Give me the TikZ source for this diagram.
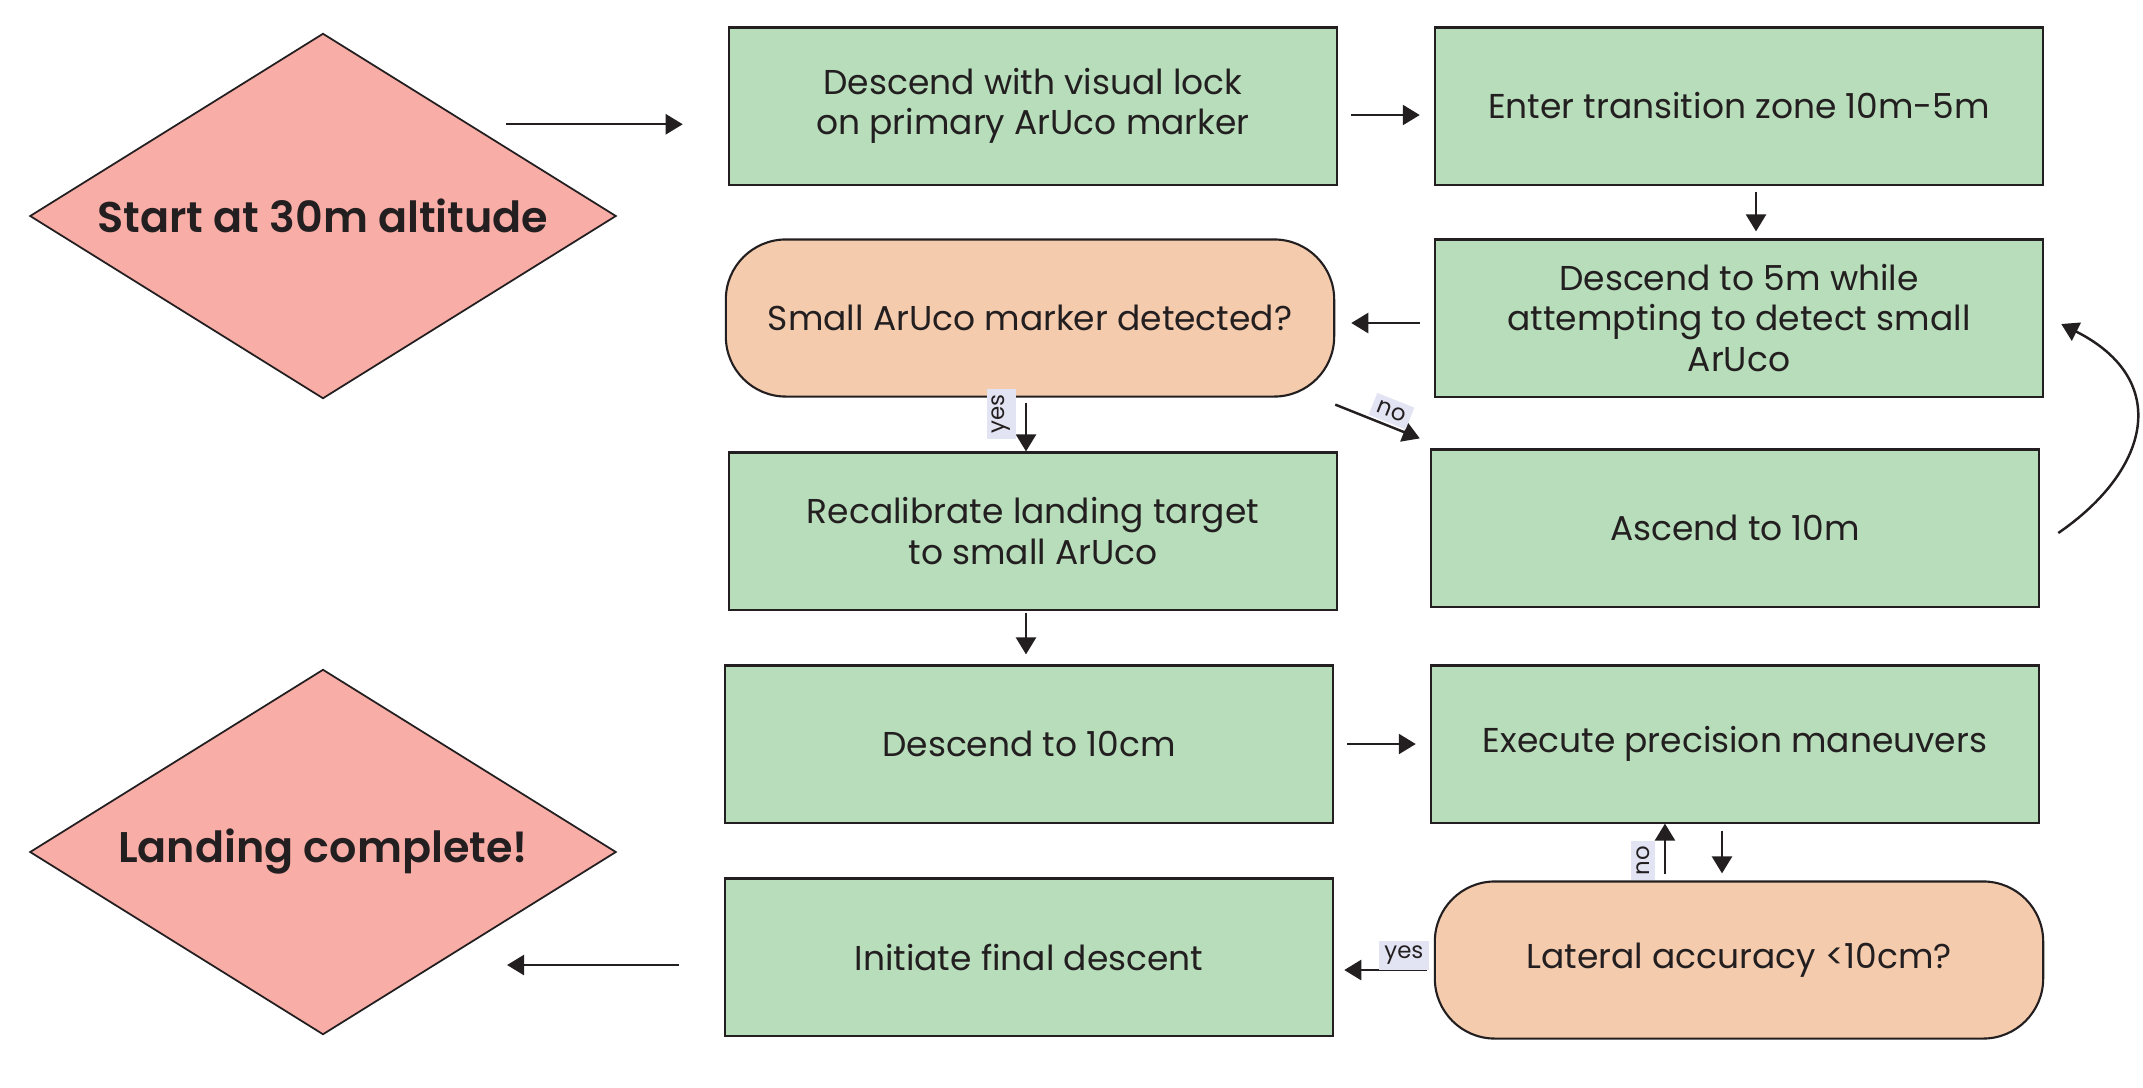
\documentclass[tikz,border=0pt]{standalone}
\usepackage{fontspec}
\setmainfont{Poppins}[BoldFont={Poppins SemiBold}]
\usetikzlibrary{arrows.meta,positioning,shapes.geometric}
\definecolor{stepgreen}{HTML}{B7DDBA}
\definecolor{termpink}{HTML}{F8ADA7}
\definecolor{askpeach}{HTML}{F4CBAD}
\definecolor{inkdark}{HTML}{231F20}
\definecolor{tagblue}{HTML}{E3E4F3}

\begin{document}
\begin{tikzpicture}[x=0.01cm, y=-0.01cm,
      box/.style={draw=inkdark, line width=0.6pt, fill=stepgreen, minimum width=6.08cm,
                  minimum height=1.57cm, align=center, text=inkdark,
                  font=\fontsize{9.8}{11.4}\selectfont},
      ask/.style={box, fill=askpeach, rounded corners=0.6cm},
      term/.style={diamond, aspect=1.6, draw=inkdark, line width=0.5pt, fill=termpink,
                   minimum width=5.86cm, minimum height=3.65cm, inner sep=0pt, text=inkdark,
                   font=\fontsize{12.2}{14}\selectfont\bfseries},
      arr/.style={-{Triangle[length=1.7mm, width=2mm]}, line width=0.7pt, draw=inkdark},
      tag/.style={fill=tagblue, text=inkdark, inner sep=1.5pt, font=\fontsize{6.5}{7}\selectfont}
    ]
    \useasboundingbox (0,0) rectangle (2143,1087);

    \node[term] (start) at (323,216)  {Start at 30m altitude};
    \node[term] (land)  at (323,852)  {Landing complete!};

    \node[box] (lock)    at (1033,106) {Descend with visual lock\\on primary ArUco marker};
    \node[box] (zone)    at (1739,106) {Enter transition zone 10m-5m};
    \node[box] (descend) at (1739,318) {Descend to 5m while\\attempting to detect small\\ArUco};
    \node[ask] (small)   at (1030,318) {Small ArUco marker detected?};
    \node[box] (recal)   at (1033,531) {Recalibrate landing target\\to small ArUco};
    \node[box] (ascend)  at (1735,528) {Ascend to 10m};
    \node[box] (tencm)   at (1029,744) {Descend to 10cm};
    \node[box] (precise) at (1735,744) {Execute precision maneuvers};
    \node[ask] (lateral) at (1739,960) {Lateral accuracy <10cm?};
    \node[box] (final)   at (1029,957) {Initiate final descent};

    \draw[arr, shorten <=0.36cm, shorten >=0.45cm] (start.north east) -- (start.north east -| lock.west);
    \draw[arr, shorten <=0.13cm, shorten >=0.14cm] ([yshift=-0.09cm]lock.east) -- ([yshift=-0.09cm]zone.west);
    \draw[arr, shorten <=0.06cm, shorten >=0.07cm] ([xshift=0.17cm]zone.south) -- ([xshift=0.17cm]descend.north);
    \draw[arr, shorten <=0.14cm, shorten >=0.16cm] ([yshift=-0.05cm]descend.west) -- ([yshift=-0.05cm]small.east);
    \draw[arr, shorten <=0.05cm] ([xshift=-0.04cm]small.south) -- ([xshift=-0.04cm]small.south |- recal.north)
      node[tag, rotate=90, anchor=south, pos=0.3, outer sep=0.1cm] {yes};
    \draw[arr] ([yshift=-0.07cm]small.south east) -- ([xshift=-0.1cm,yshift=0.1cm]ascend.north west)
      node[tag, sloped, above, pos=0.6, outer sep=0.03cm] {no};
    \draw[arr, shorten <=0.02cm, shorten >=0.1cm] ([xshift=-0.07cm]recal.south) -- ([xshift=-0.07cm]recal.south |- tencm.north);
    \draw[arr, shorten <=0.13cm, shorten >=0.14cm] (tencm.east) -- (precise.west);
    \draw[arr, shorten <=0.07cm, shorten >=0.07cm] ([xshift=-0.13cm]precise.south) -- ([xshift=-0.13cm]precise.south |- lateral.north);
    \draw[arr, shorten <=0.06cm] ([xshift=-0.74cm]lateral.north) -- ([xshift=-0.74cm]lateral.north |- precise.south)
      node[tag, rotate=90, anchor=south, pos=0.35, outer sep=0.1cm] {no};
    \draw[arr, shorten <=0.07cm, shorten >=0.1cm] ([yshift=-0.1cm]lateral.west) -- ([yshift=-0.1cm]lateral.west -| final.east)
      node[tag, above, pos=0.3, outer sep=0pt] {yes};
    \draw[arr, shorten <=0.45cm, shorten >=0.37cm] ([yshift=-0.08cm]final.west) -- ([yshift=-0.08cm]final.west -| land.south east);
    \draw[arr] ([xshift=0.18cm,yshift=-0.05cm]ascend.east) .. controls (2150,470) and (2172,380) .. ([xshift=0.17cm,yshift=-0.06cm]descend.east);
  \end{tikzpicture}
\end{document}
